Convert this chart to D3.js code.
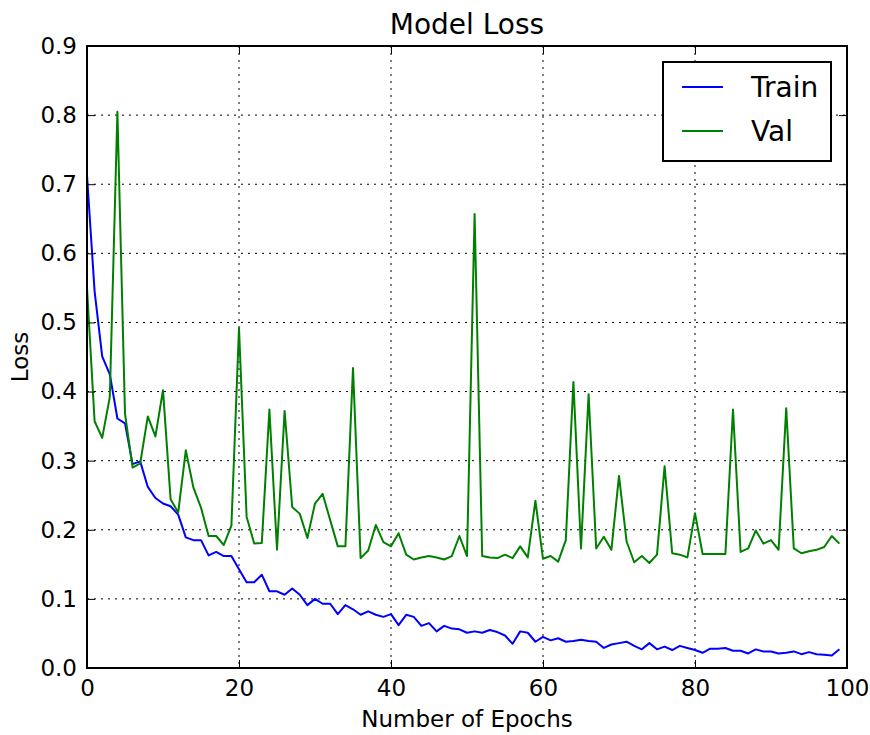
<!DOCTYPE html>
<html>
<head>
	<meta charset="utf-8">
	<title>Model Loss</title>
	<script src="https://cdnjs.cloudflare.com/ajax/libs/d3/7.8.5/d3.min.js"></script>
	<style>
		body { margin: 0; background: #fff; }
		text { font-family: "DejaVu Sans", sans-serif; fill: #000; }
	</style>
</head>
<body>
	<div id="chart"></div>
	<script type="text/javascript">
		// loss per epoch
		let train = [
			0.713, 0.545, 0.451, 0.425, 0.361, 0.354, 0.295, 0.299, 0.262, 0.246,
			0.238, 0.234, 0.222, 0.189, 0.185, 0.185, 0.163, 0.168, 0.162, 0.162,
			0.143, 0.124, 0.124, 0.135, 0.111, 0.111, 0.106, 0.115, 0.106, 0.091,
			0.100, 0.093, 0.093, 0.078, 0.091, 0.085, 0.077, 0.082, 0.077, 0.074,
			0.078, 0.062, 0.077, 0.074, 0.061, 0.065, 0.053, 0.061, 0.057, 0.056,
			0.051, 0.053, 0.051, 0.055, 0.052, 0.047, 0.035, 0.053, 0.051, 0.038,
			0.045, 0.040, 0.043, 0.038, 0.039, 0.041, 0.039, 0.038, 0.029, 0.034,
			0.036, 0.038, 0.032, 0.027, 0.036, 0.027, 0.031, 0.026, 0.032, 0.029,
			0.026, 0.022, 0.028, 0.028, 0.029, 0.025, 0.025, 0.021, 0.027, 0.024,
			0.024, 0.021, 0.022, 0.024, 0.020, 0.023, 0.020, 0.019, 0.018, 0.027
		];
		let val = [
			0.550, 0.357, 0.333, 0.392, 0.805, 0.368, 0.290, 0.296, 0.364, 0.335,
			0.402, 0.244, 0.225, 0.315, 0.261, 0.232, 0.191, 0.191, 0.178, 0.206,
			0.492, 0.219, 0.180, 0.181, 0.374, 0.171, 0.372, 0.233, 0.223, 0.188,
			0.238, 0.252, 0.214, 0.176, 0.176, 0.434, 0.159, 0.170, 0.207, 0.182,
			0.176, 0.195, 0.164, 0.157, 0.160, 0.162, 0.160, 0.157, 0.162, 0.191,
			0.162, 0.657, 0.162, 0.160, 0.159, 0.164, 0.159, 0.176, 0.160, 0.242,
			0.158, 0.162, 0.154, 0.185, 0.414, 0.173, 0.396, 0.173, 0.190, 0.171,
			0.278, 0.183, 0.153, 0.162, 0.152, 0.164, 0.292, 0.166, 0.164, 0.160,
			0.224, 0.165, 0.165, 0.165, 0.165, 0.374, 0.168, 0.173, 0.199, 0.180,
			0.185, 0.171, 0.376, 0.173, 0.166, 0.169, 0.171, 0.175, 0.191, 0.180
		];
		let xTicks = [0, 20, 40, 60, 80, 100];
		let yTicks = [0.0, 0.1, 0.2, 0.3, 0.4, 0.5, 0.6, 0.7, 0.8, 0.9];
		let seriesNames = ["Train", "Val"];

		let width = 870, height = 735;
		let pLeft = 87, pRight = 847, pTop = 46, pBottom = 668;

		let svg = d3.select("#chart").append("svg")
			.attr("width", width)
			.attr("height", height);

		let x = d3.scaleLinear().domain([0, 100]).range([pLeft, pRight]);
		let y = d3.scaleLinear().domain([0, 0.9]).range([pBottom, pTop]);

		// dotted grid
		svg.append("g")
			.selectAll("line")
			.data(xTicks.slice(1, -1))
			.enter().append("line")
			.attr("x1", d => x(d)).attr("x2", d => x(d))
			.attr("y1", pTop).attr("y2", pBottom)
			.attr("stroke", "#000").attr("stroke-width", 1)
			.attr("stroke-dasharray", "2,5");
		svg.append("g")
			.selectAll("line")
			.data(yTicks.slice(1, -1))
			.enter().append("line")
			.attr("x1", pLeft).attr("x2", pRight)
			.attr("y1", d => y(d)).attr("y2", d => y(d))
			.attr("stroke", "#000").attr("stroke-width", 1)
			.attr("stroke-dasharray", "2,5");

		// lines
		let line = d3.line()
			.x((d, i) => x(i))
			.y(d => y(d));
		let colors = ["#0000ff", "#008000"];
		[train, val].forEach(function(s, k) {
			svg.append("path")
				.datum(s)
				.attr("d", line)
				.attr("fill", "none")
				.attr("stroke", colors[k])
				.attr("stroke-width", 2)
				.attr("stroke-linejoin", "round");
		});

		// axes, ticks pointing inward on all sides
		let fmt = d3.format(".1f");
		let xb = svg.append("g").attr("transform", "translate(0," + pBottom + ")")
			.call(d3.axisBottom(x).tickValues(xTicks).tickSizeInner(-8).tickSizeOuter(0).tickPadding(12));
		let xt = svg.append("g").attr("transform", "translate(0," + pTop + ")")
			.call(d3.axisTop(x).tickValues(xTicks).tickSizeInner(-8).tickSizeOuter(0).tickFormat(""));
		let yl = svg.append("g").attr("transform", "translate(" + pLeft + ",0)")
			.call(d3.axisLeft(y).tickValues(yTicks).tickSizeInner(-8).tickSizeOuter(0).tickPadding(10).tickFormat(fmt));
		let yr = svg.append("g").attr("transform", "translate(" + pRight + ",0)")
			.call(d3.axisRight(y).tickValues(yTicks).tickSizeInner(-8).tickSizeOuter(0).tickFormat(""));
		[xb, xt, yl, yr].forEach(function(g) {
			g.select(".domain").remove();
			g.selectAll(".tick line").attr("stroke", "#000").attr("stroke-width", 1);
			g.selectAll("text").style("font-family", "DejaVu Sans").style("font-size", "23px").attr("fill", "#000");
		});

		// frame
		svg.append("rect")
			.attr("x", pLeft).attr("y", pTop)
			.attr("width", pRight - pLeft).attr("height", pBottom - pTop)
			.attr("fill", "none").attr("stroke", "#000").attr("stroke-width", 2);

		// titles
		svg.append("text")
			.attr("x", (pLeft + pRight) / 2).attr("y", 34)
			.attr("text-anchor", "middle")
			.style("font-size", "28px")
			.text("Model Loss");
		svg.append("text")
			.attr("x", (pLeft + pRight) / 2).attr("y", 727)
			.attr("text-anchor", "middle")
			.style("font-size", "23px")
			.text("Number of Epochs");
		svg.append("text")
			.attr("transform", "translate(28," + (pTop + pBottom) / 2 + ") rotate(-90)")
			.attr("text-anchor", "middle")
			.style("font-size", "23px")
			.text("Loss");

		// legend
		let lg = svg.append("g");
		lg.append("rect")
			.attr("x", 663).attr("y", 62)
			.attr("width", 168).attr("height", 99)
			.attr("fill", "#fff").attr("stroke", "#000").attr("stroke-width", 2);
		seriesNames.forEach(function(name, k) {
			let ly = 87 + k * 44;
			lg.append("line")
				.attr("x1", 682).attr("x2", 723)
				.attr("y1", ly).attr("y2", ly)
				.attr("stroke", colors[k]).attr("stroke-width", 2);
			lg.append("text")
				.attr("x", 751).attr("y", ly + 10)
				.style("font-size", "28px")
				.text(name);
		});
	</script>
</body>
</html>
